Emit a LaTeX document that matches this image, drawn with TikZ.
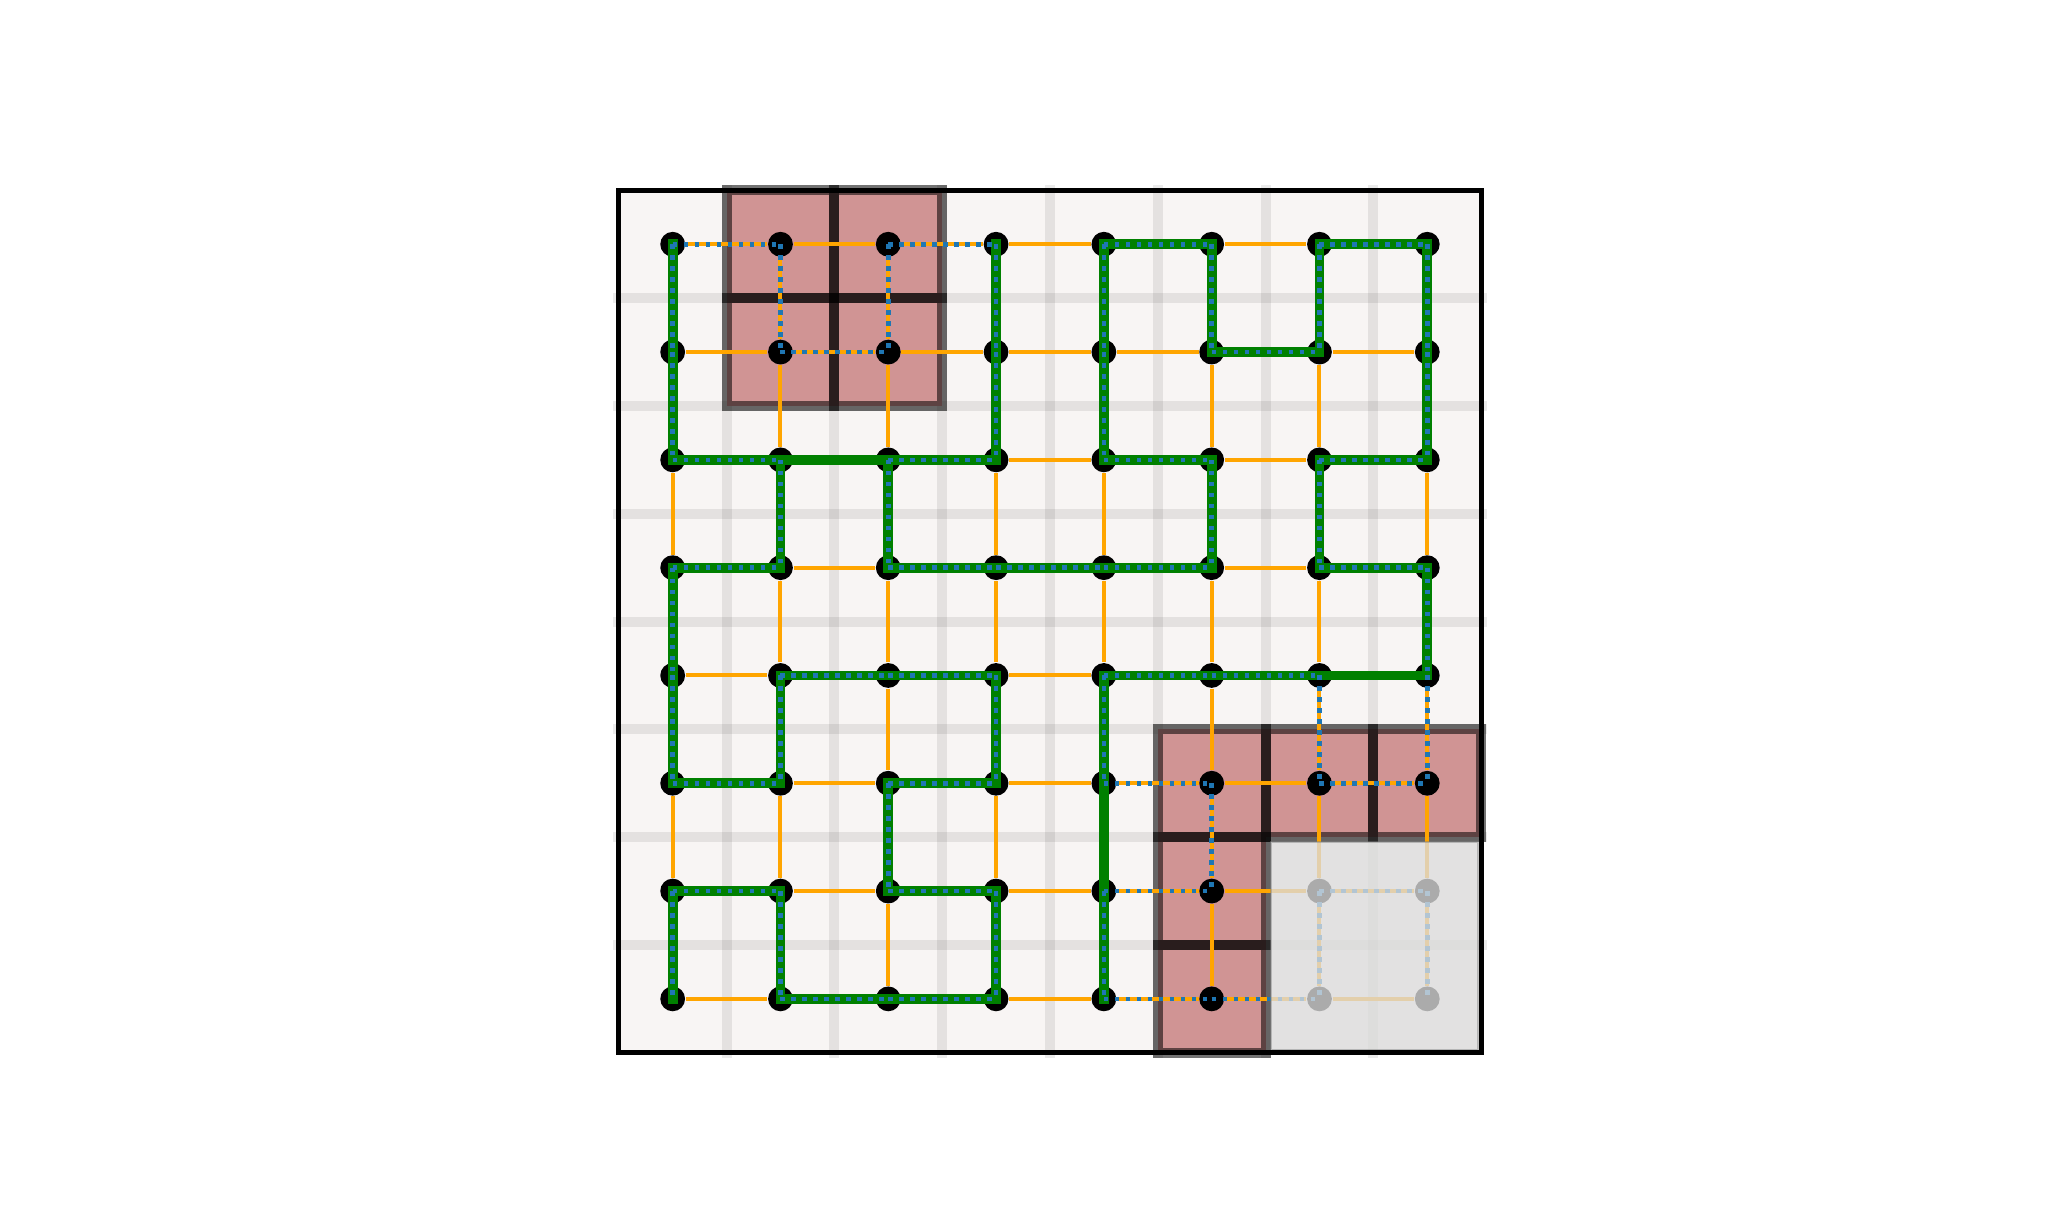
\documentclass[tikz,border=0pt]{standalone}
\definecolor{bgc}{HTML}{F8F5F4}
\definecolor{redc}{HTML}{D09494}
\definecolor{orangec}{HTML}{FFA500}
\definecolor{greenc}{HTML}{008000}
\definecolor{bluec}{HTML}{1F77B4}
\definecolor{grayc}{HTML}{DCDCDC}
\tikzset{
 band/.style={line width=2.64pt, draw=black, draw opacity=0.08},
 redfill/.style={fill=redc},
 redborder/.style={draw=black, draw opacity=0.55, line width=2.64pt},
 vtx/.style={circle, fill=black, inner sep=0pt, minimum size=0.23cm},
 oedge/.style={draw=orangec, line width=1.05pt},
 gedge/.style={draw=greenc, line width=2.6pt, line cap=rect},
 bedge/.style={draw=bluec, line width=1.2pt, dash pattern=on 1.2pt off 1.7pt},
 fadebox/.style={fill=grayc, fill opacity=0.78, draw=gray, draw opacity=0.45, line width=0.5pt},
 framebox/.style={draw=black, line width=1.4pt},
}
\begin{document}
\begin{tikzpicture}
\useasboundingbox (-6.240,-9.162) rectangle (12.758,2.266);
\fill[white] (-6.240,-9.162) rectangle (12.758,2.266);
% background of the board
\fill[bgc] (-0.5,0.5) rectangle (7.5,-7.5);
% light grid bands
\foreach \k in {0,...,6} {
  \draw[band] (\k+0.5,0.55) -- (\k+0.5,-7.55);
  \draw[band] (-0.55,-\k-0.5) -- (7.55,-\k-0.5);
}
% red cells
\foreach \i/\j in {1/0,2/0,1/1,2/1,5/5,6/5,7/5,5/6,5/7}
  \fill[redfill] (\i-0.5,-\j+0.5) rectangle (\i+0.5,-\j-0.5);
\foreach \i/\j in {1/0,2/0,1/1,2/1,5/5,6/5,7/5,5/6,5/7}
  \draw[redborder] (\i-0.5,-\j+0.5) rectangle (\i+0.5,-\j-0.5);
% vertices
\foreach \i in {0,...,7}
  \foreach \j in {0,...,7}
    \node[vtx] (n-\i-\j) at (\i,-\j) {};
% orange lattice edges
\foreach \i [evaluate=\i as \k using int(\i+1)] in {0,...,6}
  \foreach \j in {0,...,7} {
    \draw[oedge] (n-\i-\j) -- (n-\k-\j);
    \draw[oedge] (n-\j-\i) -- (n-\j-\k);
  }
% green edges
\foreach \i/\j [evaluate=\i as \k using int(\i+1)] in {4/0,6/0,5/1,0/2,1/2,2/2,4/2,6/2,0/3,2/3,3/3,4/3,6/3,1/4,2/4,4/4,5/4,6/4,0/5,2/5,0/6,2/6,1/7,2/7}
  \draw[gedge] (n-\i-\j.center) -- (n-\k-\j.center);
\foreach \i/\j [evaluate=\j as \k using int(\j+1)] in {0/0,3/0,4/0,5/0,6/0,7/0,0/1,3/1,4/1,7/1,1/2,2/2,5/2,6/2,0/3,7/3,0/4,1/4,3/4,4/4,2/5,4/5,0/6,1/6,3/6,4/6}
  \draw[gedge] (n-\i-\j.center) -- (n-\i-\k.center);
% blue dotted edges
\foreach \i/\j [evaluate=\i as \k using int(\i+1)] in {4/0,6/0,5/1,0/2,2/2,4/2,6/2,0/3,2/3,3/3,4/3,6/3,1/4,2/4,4/4,5/4,0/5,2/5,0/6,2/6,1/7,2/7,0/0,2/0,1/1,4/5,6/5,4/6,6/6,4/7,5/7}
  \draw[bedge] (n-\i-\j.center) -- (n-\k-\j.center);
\foreach \i/\j [evaluate=\j as \k using int(\j+1)] in {0/0,3/0,4/0,5/0,6/0,7/0,0/1,3/1,4/1,7/1,1/2,2/2,5/2,6/2,0/3,7/3,0/4,1/4,3/4,4/4,2/5,0/6,1/6,3/6,4/6,1/0,2/0,6/4,7/4,5/5,6/6,7/6}
  \draw[bedge] (n-\i-\j.center) -- (n-\i-\k.center);
% faded region
\draw[fadebox] (5.547,-5.547) rectangle (7.47,-7.47);
% frame
\draw[framebox] (-0.5,0.5) rectangle (7.5,-7.5);
\end{tikzpicture}
\end{document}
